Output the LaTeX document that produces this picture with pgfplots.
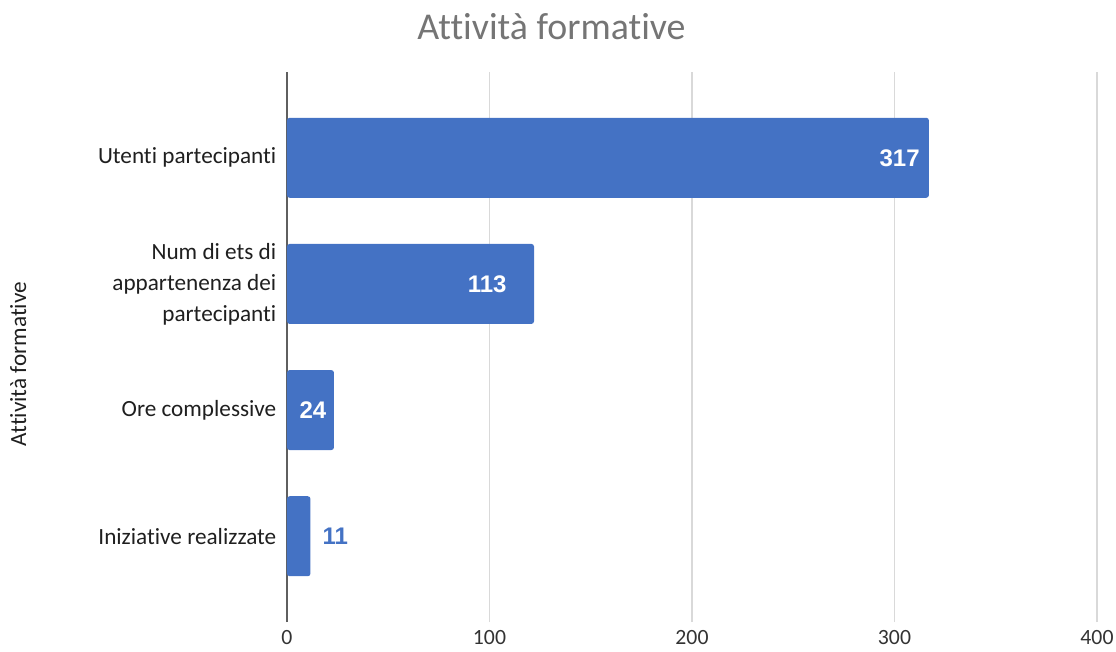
\documentclass[border=0pt]{standalone}
\usepackage{fontspec}
\setmainfont{Carlito}[Ligatures={NoCommon}]
\newfontfamily\labelfont{Liberation Sans}
\usepackage{pgfplots}
\pgfplotsset{compat=1.18}

\definecolor{barblue}{HTML}{4472C4}
\definecolor{titlegray}{HTML}{757575}
\definecolor{gridgray}{HTML}{D9D9D9}
\definecolor{zeroline}{HTML}{5F5F5F}

\begin{document}
\begin{tikzpicture}
\begin{axis}[
  name=ax,
  scale only axis,
  width=607.5pt, height=412.5pt,
  xmin=0, xmax=400,
  ymin=-0.68, ymax=3.68,
  /pgf/number format/assume math mode=true,
  xtick={100,200,300,400},
  extra x ticks={0},
  extra x tick style={grid style={draw=zeroline, line width=1.3pt}},
  xmajorgrids,
  grid style={draw=gridgray, line width=1pt},
  axis line style={draw=none},
  major tick length=0pt,
  xticklabel style={font=\fontsize{16.3}{19}\selectfont, text=black!80, yshift=-3pt},
  ytick={0,1,2,3},
  yticklabels={Iniziative realizzate, Ore complessive, {Num di ets di\\appartenenza dei\\partecipanti}, Utenti partecipanti},
  yticklabel style={align=right, font=\fontsize{17.4}{23.2}\selectfont, text=black!88, xshift=-4.5pt},
  title={Attività formative},
  title style={at={(axis description cs:0.3265,1.044)}, anchor=base, font=\fontsize{28.4}{34}\selectfont, text=titlegray},
  ylabel={Attività formative},
  ylabel style={at={(axis description cs:-0.3222,0.469)}, anchor=base, font=\fontsize{17.4}{20}\selectfont, text=black!88},
]

% bar lengths as drawn
\addplot[xbar, bar width=60pt, fill=barblue, draw=none, rounded corners=2pt]
  coordinates {(11.6,0) (23.2,1) (122,2) (317,3)};

% data labels inside the bars
\addplot[draw=none, mark=none, point meta=explicit symbolic, nodes near coords,
  nodes near coords style={anchor=east, xshift=-6.75pt, inner sep=0pt, text=white,
    font=\labelfont\bfseries\fontsize{18}{20}\selectfont}]
  coordinates {(317,3) [317] (113,2) [113] (24,1) [24]};

% data label outside the short bar
\addplot[draw=none, mark=none, point meta=explicit symbolic, nodes near coords,
  nodes near coords style={anchor=west, xshift=9.75pt, inner sep=0pt, text=barblue,
    font=\labelfont\bfseries\fontsize{18}{20}\selectfont}]
  coordinates {(11,0) [11]};
\end{axis}
\pgfresetboundingbox
\path[use as bounding box] (ax.south west) ++(-215.25pt,-21.75pt) rectangle ++(837pt,488.25pt);
\end{tikzpicture}
\end{document}
